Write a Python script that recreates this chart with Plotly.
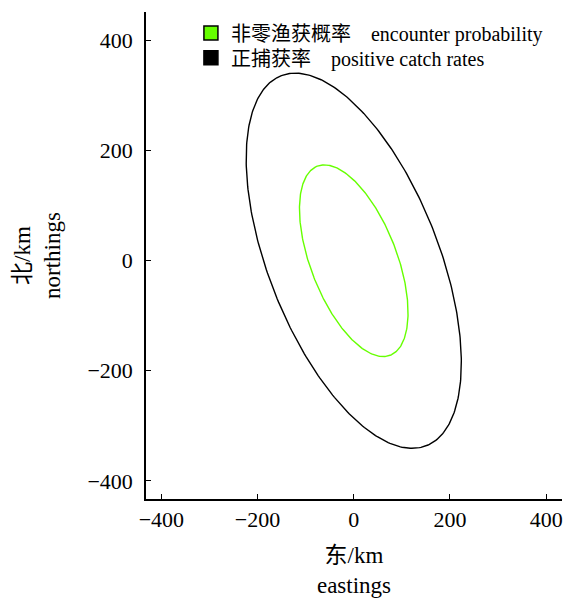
import numpy as np
import plotly.graph_objects as go

# Ellipse parameters (km)
series_names = ["非零渔获概率\u00a0\u00a0\u00a0\u00a0encounter probability",
                "正捕获率\u00a0\u00a0\u00a0\u00a0positive catch rates"]
series_colors = ["#66FF00", "#000000"]
center_x = [0.0, 0.0]
center_y = [0.0, 0.0]
semi_major = [188.0, 369.0]
semi_minor = [88.0, 173.5]
angle_deg = [115.2, 115.7]

x_tickvals = [-400, -200, 0, 200, 400]
y_tickvals = [-400, -200, 0, 200, 400]
x_range = [-432, 433]
y_range = [-433, 452]

FONT = "Liberation Serif, Times New Roman, Noto Sans CJK SC, serif"

fig = go.Figure()
t = np.linspace(0, 2 * np.pi, 361)
legend_ids = ["legend", "legend2"]
for name, col, cx, cy, a, b, ang, lg in zip(series_names, series_colors, center_x, center_y,
                                             semi_major, semi_minor, angle_deg, legend_ids):
    phi = np.deg2rad(ang)
    xs = cx + a * np.cos(t) * np.cos(phi) - b * np.sin(t) * np.sin(phi)
    ys = cy + a * np.cos(t) * np.sin(phi) + b * np.sin(t) * np.cos(phi)
    fig.add_trace(go.Scatter(x=xs, y=ys, mode="lines", line=dict(color=col, width=1.4),
                             showlegend=False, hoverinfo="skip"))
    fig.add_trace(go.Scatter(x=[None], y=[None], mode="markers", name=name, legend=lg,
                             marker=dict(symbol="square", size=14, color=col,
                                         line=dict(color="black", width=1.5))))

x_ticktext = [f"{v}".replace("-", "\u2212") for v in x_tickvals] + [""]
y_ticktext = [f"{v}".replace("-", "\u2212") for v in y_tickvals] + [""]

legend_style = dict(xanchor="left", yanchor="top", bgcolor="rgba(0,0,0,0)",
                    font=dict(size=20, family=FONT), itemsizing="trace")

fig.update_layout(
    width=564, height=598,
    margin=dict(l=146, r=2, t=12, b=99),
    paper_bgcolor="white", plot_bgcolor="white",
    font=dict(family=FONT, size=22, color="black"),
    legend=dict(x=0.108, y=0.997, **legend_style),
    legend2=dict(x=0.108, y=0.946, **legend_style),
    xaxis=dict(range=x_range, tickvals=x_tickvals + [x_range[1] - 0.5], ticktext=x_ticktext,
               ticks="inside", ticklen=5, tickwidth=1, tickcolor="black",
               showline=True, linecolor="black", linewidth=1.5,
               showgrid=False, zeroline=False, tickfont=dict(size=22),
               title=dict(text="东/km<br>eastings", standoff=17, font=dict(size=23))),
    yaxis=dict(range=y_range, tickvals=y_tickvals + [y_range[1] - 0.5], ticktext=y_ticktext,
               ticks="inside", ticklen=5, tickwidth=1, tickcolor="black",
               showline=True, linecolor="black", linewidth=1.5, ticklabelstandoff=7,
               showgrid=False, zeroline=False, tickfont=dict(size=22),
               title=dict(text="北/km<br>northings", standoff=20, font=dict(size=23))),
)

fig.write_html("out.html")
